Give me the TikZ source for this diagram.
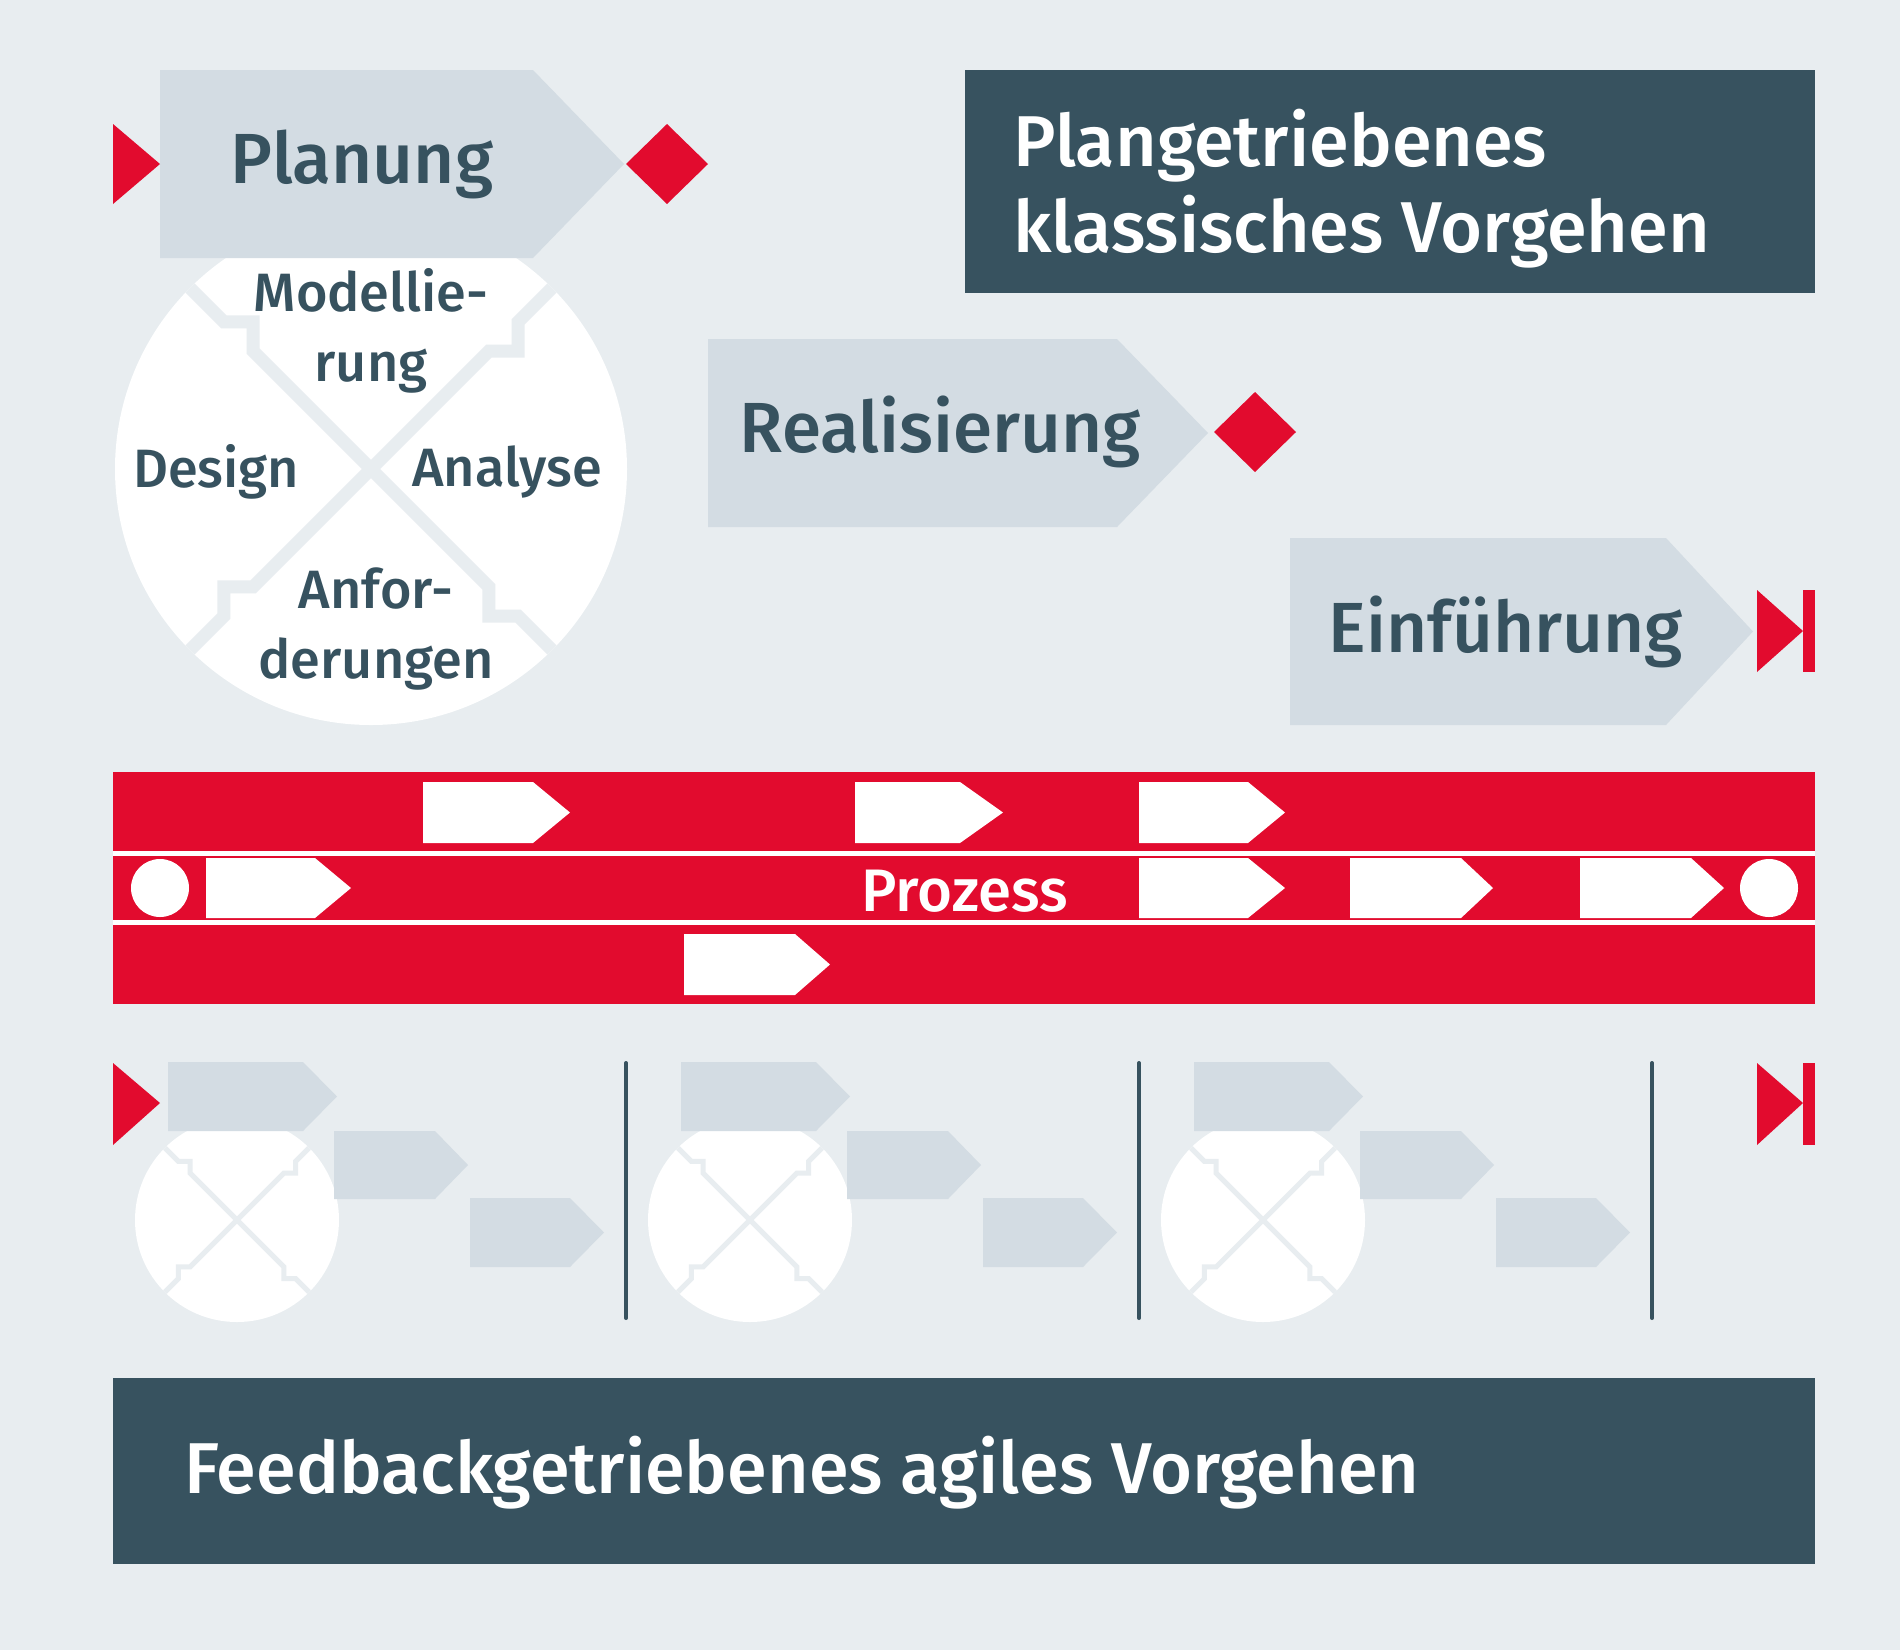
\documentclass[tikz,border=0pt]{standalone}
\usepackage{fontspec}
\setmainfont{Fira Sans Medium}
\definecolor{bgc}{HTML}{E8EDF0}
\definecolor{lightp}{HTML}{D3DCE3}
\definecolor{darkb}{HTML}{37525F}
\definecolor{dbred}{HTML}{E20B2E}
\newcommand\mypent[6]{% color, x-left, x-shoulder, x-tip, y-top, y-bottom
  \fill[#1] (#2,#5) -- (#3,#5) -- (#4,{(#5+#6)/2}) -- (#3,#6) -- (#2,#6) -- cycle;}
\newcommand\crossdisc[4]{% cx, cy, R, band width
  \begin{scope}[shift={(#1,#2)}]
    \fill[white] (0,0) circle (#3);
    \begin{scope}
      \clip (0,0) circle (#3);
      \begin{scope}[scale=#3]
        \draw[bgc, line width=#4, line join=miter]
          (0,0) -- (0.46,-0.46) -- (0.575,-0.46) -- (0.575,-0.575) -- (1.1,-1.1)
          (0,0) -- (0.46,0.46) -- (0.46,0.575) -- (0.575,0.575) -- (1.1,1.1)
          (0,0) -- (-0.46,0.46) -- (-0.575,0.46) -- (-0.575,0.575) -- (-1.1,1.1)
          (0,0) -- (-0.46,-0.46) -- (-0.46,-0.575) -- (-0.575,-0.575) -- (-1.1,-1.1);
      \end{scope}
    \end{scope}
  \end{scope}}
\begin{document}
\begin{tikzpicture}[x=1pt,y=-1pt,
  bigtxt/.style={text=darkb, font=\fontsize{71}{80}\selectfont, inner sep=0pt},
  midtxt/.style={text=darkb, font=\fontsize{54}{70}\selectfont, align=center, inner sep=0pt},
  whtxt/.style={text=white, font=\fontsize{72}{86}\selectfont, inner sep=0pt},
  sepline/.style={draw=darkb, line width=4pt, line cap=round}]
\fill[bgc] (0,0) rectangle (1900,1650);
\useasboundingbox (0,0) rectangle (1900,1650);

% ---------- classic: Planung ----------
\crossdisc{371}{469}{256}{13pt}
\mypent{lightp}{160}{533}{624}{70}{258}
\fill[dbred] (113,124) -- (160,164) -- (113,204) -- cycle;
\fill[dbred] (667,124) -- (708,164) -- (667,204) -- (626,164) -- cycle;
\node[bigtxt] (plan) at (362,164) {Planung};
\node[midtxt] (modl) at (371,331) {Modellie-\\rung};
\node[midtxt] (desg) at (216,472) {Design};
\node[midtxt] (anal) at (507,472) {Analyse};
\node[midtxt] (anfo) at (376,629) {Anfor-\\derungen};

% ---------- title box ----------
\fill[darkb] (965,70) rectangle (1815,293);
\node[whtxt, anchor=west, align=left] (title) at (1013,189) {Plangetriebenes\\klassisches Vorgehen};

% ---------- Realisierung ----------
\mypent{lightp}{708}{1117}{1208}{339}{527}
\fill[dbred] (1255,392) -- (1296,432) -- (1255,472) -- (1214,432) -- cycle;
\node[bigtxt] (real) at (940,432) {Realisierung};

% ---------- Einfuehrung ----------
\mypent{lightp}{1290}{1666}{1753}{538}{725}
\fill[dbred] (1757,590) -- (1803,631) -- (1757,672) -- cycle;
\fill[dbred] (1803,590) rectangle (1815,672);
\node[bigtxt] (einf) at (1506,632) {Einführung};

% ---------- red process band ----------
\fill[dbred] (113,772) rectangle (1815,1004);
\fill[white] (113,851) rectangle (1815,856);
\fill[white] (113,920) rectangle (1815,925);
% row 1
\mypent{white}{423}{533}{570}{782}{843}
\mypent{white}{855}{960}{1003}{782}{843}
\mypent{white}{1139}{1248}{1285}{782}{843}
% row 2
\fill[white] (160,888) circle (29);
\mypent{white}{206}{315}{351}{858}{918}
\mypent{white}{1139}{1248}{1285}{858}{918}
\mypent{white}{1350}{1461}{1493}{858}{918}
\mypent{white}{1580}{1691}{1724}{858}{918}
\fill[white] (1769,888) circle (29);
\node[text=white, font=\fontsize{60}{66}\selectfont, inner sep=0pt] (proz) at (965,891) {Prozess};
% row 3
\mypent{white}{684}{795}{830}{934}{995}

% ---------- agile iterations ----------
\foreach \dx in {0,513,1026}{
  \begin{scope}[xshift=\dx]
    \crossdisc{237}{1220}{102}{5pt}
    \mypent{lightp}{168}{303}{337}{1062}{1131}
    \mypent{lightp}{334}{435}{468}{1131}{1199}
    \mypent{lightp}{470}{570}{604}{1198}{1267}
  \end{scope}
}
\coordinate (s1a) at (626,1063); \coordinate (s1b) at (626,1318);
\coordinate (s2a) at (1139,1063); \coordinate (s2b) at (1139,1318);
\coordinate (s3a) at (1652,1063); \coordinate (s3b) at (1652,1318);
\draw[sepline] (s1a) -- (s1b);
\draw[sepline] (s2a) -- (s2b);
\draw[sepline] (s3a) -- (s3b);
\fill[dbred] (113,1063) -- (160,1103) -- (113,1145) -- cycle;
\fill[dbred] (1757,1063) -- (1803,1103) -- (1757,1145) -- cycle;
\fill[dbred] (1803,1063) rectangle (1815,1145);

% ---------- agile box ----------
\fill[darkb] (113,1378) rectangle (1815,1564);
\node[whtxt, anchor=west] (agile) at (184,1473) {Feedbackgetriebenes agiles Vorgehen};
\end{tikzpicture}
\end{document}
